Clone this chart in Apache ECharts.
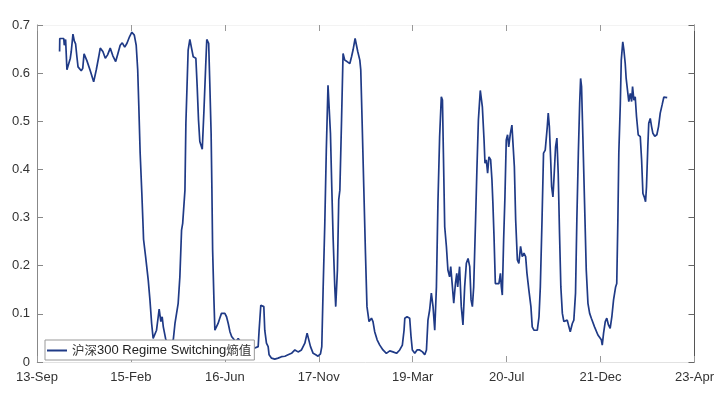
<!DOCTYPE html>
<html><head><meta charset="utf-8">
<script src="https://cdn.jsdelivr.net/npm/echarts@6/dist/echarts.min.js"></script>
<style>html,body{margin:0;padding:0;background:#fff}#c{width:717px;height:393px}</style>
</head><body><div id="c"></div>
<script>
// x = days since 2013-09-28 (first tick); ticks every 499 days
const tickLabels = ['13-Sep','15-Feb','16-Jun','17-Nov','19-Mar','20-Jul','21-Dec','23-Apr'];
const seriesName = '沪深300 Regime Switching熵值';
const days = [
120,121,142,145,152,159,168,177,182,191,
198,205,212,218,227,235,243,250,265,283,
301,315,328,336,350,363,375,389,403,418,
430,442,453,466,478,492,504,517,527,535,
541,548,557,564,566,577,591,600,609,617,
626,635,644,649,658,665,671,683,695,711,
724,733,742,750,759,768,774,786,791,796,
803,812,821,830,844,851,858,865,871,878,
887,896,902,912,918,925,929,933,940,945,
954,962,971,980,989,998,1007,1016,1025,1034,
1042,1056,1069,1081,1104,1131,1157,1175,1180,1189,
1196,1205,1210,1219,1228,1233,1246,1263,1281,1299,
1317,1334,1352,1370,1387,1405,1423,1435,1442,1453,
1467,1481,1493,1506,1513,1520,1529,1537,1546,1552,
1559,1566,1573,1582,1587,1596,1603,1609,1618,1626,
1631,1635,1640,1647,1653,1662,1671,1679,1690,1697,
1704,1715,1720,1727,1736,1745,1753,1764,1768,1777,
1785,1794,1807,1821,1838,1856,1874,1891,1910,1927,
1941,1950,1954,1966,1980,1987,1994,2007,2019,2033,
2048,2060,2069,2077,2086,2095,2104,2113,2122,2130,
2139,2148,2154,2159,2166,2175,2183,2192,2198,2207,
2214,2223,2230,2235,2245,2254,2263,2272,2281,2290,
2299,2306,2313,2320,2330,2337,2345,2355,2366,2375,
2380,2387,2394,2401,2410,2417,2422,2428,2435,2444,
2454,2462,2467,2472,2479,2486,2493,2500,2506,2515,
2523,2528,2536,2543,2552,2560,2569,2578,2587,2596,
2603,2613,2624,2631,2640,2649,2658,2667,2674,2683,
2691,2700,2711,2716,2722,2729,2734,2741,2746,2755,
2762,2769,2776,2783,2791,2799,2808,2817,2826,2833,
2844,2852,2861,2868,2876,2883,2888,2893,2900,2909,
2918,2927,2936,2945,2953,2962,2971,2980,2989,2998,
3003,3010,3019,3027,3036,3045,3054,3063,3074,3080,
3086,3091,3099,3104,3112,3118,3125,3130,3137,3144,
3152,3159,3164,3171,3178,3185,3194,3205,3212,3219,
3226,3233,3238,3245,3250,3258,3265,3272,3282,3293,
3302,3311,3321,3330,3339,3348];
const values = [
0.645,0.672,0.672,0.658,0.670,0.607,0.610,0.631,0.645,0.681,
0.667,0.661,0.634,0.613,0.617,0.605,0.610,0.640,0.626,0.605,
0.582,0.607,0.634,0.652,0.645,0.631,0.638,0.652,0.636,0.624,
0.641,0.658,0.663,0.654,0.662,0.676,0.685,0.679,0.658,0.607,
0.530,0.434,0.350,0.278,0.255,0.219,0.170,0.129,0.080,0.049,
0.046,0.066,0.094,0.110,0.084,0.094,0.073,0.049,0.035,0.042,
0.046,0.080,0.084,0.122,0.177,0.274,0.288,0.357,0.496,0.499,
0.648,0.670,0.672,0.634,0.631,0.572,0.503,0.458,0.454,0.442,
0.523,0.613,0.670,0.662,0.579,0.475,0.364,0.233,0.129,0.066,
0.063,0.080,0.091,0.101,0.098,0.101,0.094,0.080,0.063,0.053,
0.049,0.042,0.049,0.042,0.035,0.025,0.029,0.032,0.066,0.118,
0.122,0.115,0.066,0.039,0.032,0.015,0.008,0.006,0.008,0.011,
0.012,0.015,0.018,0.025,0.021,0.025,0.039,0.060,0.049,0.032,
0.018,0.015,0.012,0.017,0.032,0.150,0.288,0.440,0.575,0.572,
0.475,0.364,0.260,0.156,0.115,0.191,0.337,0.357,0.503,0.641,
0.645,0.627,0.631,0.624,0.627,0.620,0.634,0.648,0.672,0.669,
0.645,0.627,0.607,0.503,0.364,0.226,0.115,0.084,0.087,0.091,
0.084,0.063,0.046,0.035,0.025,0.018,0.023,0.021,0.018,0.025,
0.035,0.066,0.091,0.094,0.091,0.053,0.025,0.018,0.025,0.025,
0.021,0.015,0.025,0.087,0.108,0.143,0.115,0.066,0.156,0.330,
0.468,0.551,0.544,0.434,0.281,0.240,0.191,0.177,0.198,0.156,
0.122,0.163,0.184,0.156,0.198,0.115,0.077,0.156,0.205,0.215,
0.198,0.129,0.115,0.156,0.295,0.399,0.503,0.564,0.530,0.461,
0.413,0.420,0.392,0.426,0.420,0.378,0.330,0.260,0.163,0.160,
0.163,0.184,0.156,0.139,0.253,0.343,0.461,0.472,0.447,0.475,
0.492,0.496,0.406,0.295,0.212,0.205,0.240,0.219,0.226,0.219,
0.184,0.150,0.115,0.073,0.066,0.070,0.066,0.094,0.156,0.295,
0.434,0.440,0.489,0.517,0.489,0.420,0.364,0.343,0.378,0.447,
0.465,0.392,0.267,0.156,0.101,0.084,0.080,0.087,0.073,0.063,
0.080,0.087,0.143,0.295,0.434,0.537,0.589,0.572,0.468,0.330,
0.191,0.122,0.101,0.091,0.094,0.073,0.070,0.056,0.053,0.046,
0.035,0.060,0.084,0.091,0.077,0.070,0.094,0.129,0.156,0.163,
0.295,0.434,0.537,0.627,0.665,0.648,0.620,0.589,0.586,0.541,
0.558,0.541,0.572,0.544,0.551,0.510,0.472,0.468,0.420,0.350,
0.343,0.333,0.364,0.447,0.496,0.506,0.489,0.475,0.469,0.472,
0.489,0.517,0.534,0.550,0.553,0.549];

const tickStep = 499;
const xMax = tickStep * (tickLabels.length - 1);
const data = days.map((d, i) => [d, values[i]]);
const font = "'Liberation Sans', Arial, sans-serif";
const cjk = "'Noto Sans CJK SC', sans-serif";

const chart = echarts.init(document.getElementById('c'), null, {renderer: 'canvas'});
chart.setOption({
  animation: false,
  backgroundColor: '#fff',
  grid: {left: 37, right: 22, top: 25, bottom: 31, containLabel: false},
  legend: {
    show: true,
    left: 45, top: 340,
    orient: 'horizontal',
    backgroundColor: '#fff',
    borderColor: '#999', borderWidth: 1, borderRadius: 0,
    padding: [4, 3, 3, 2],
    itemWidth: 20, itemHeight: 2, itemGap: 4,
    icon: 'rect',
    data: [seriesName],
    formatter: () => '{c|沪深}{e|300 Regime Switching}{c|熵值}',
    textStyle: {
      color: '#222', fontSize: 13, fontFamily: font,
      rich: {
        c: {fontFamily: cjk, fontSize: 12.5, color: '#333'},
        e: {fontFamily: font, fontSize: 13, color: '#222'}
      }
    }
  },
  xAxis: [
    {
      type: 'value', min: 0, max: xMax, interval: tickStep,
      position: 'bottom',
      splitLine: {show: false},
      axisLine: {show: true, onZero: false, lineStyle: {color: '#e2e2e2', width: 1}},
      axisTick: {show: true, inside: true, length: 6, lineStyle: {color: '#999'}},
      axisLabel: {
        show: true, inside: false, margin: 9, fontSize: 13, fontFamily: font, color: '#333',
        formatter: v => tickLabels[Math.round(v / tickStep)] || ''
      }
    },
    {
      type: 'value', min: 0, max: xMax, interval: tickStep,
      position: 'top',
      splitLine: {show: false},
      axisLine: {show: true, onZero: false, lineStyle: {color: '#f3f3f3', width: 1}},
      axisTick: {show: true, inside: true, length: 6, lineStyle: {color: '#999'}},
      axisLabel: {show: false}
    }
  ],
  yAxis: [
    {
      type: 'value', min: 0, max: 0.7, interval: 0.1,
      position: 'left',
      splitLine: {show: false},
      axisLine: {show: true, onZero: false, lineStyle: {color: '#888', width: 1}},
      axisTick: {show: true, inside: true, length: 6, lineStyle: {color: '#888'}},
      axisLabel: {show: true, inside: false, margin: 7, fontSize: 13, fontFamily: font, color: '#333',
        formatter: v => (Math.abs(v) < 1e-9 ? '0' : v.toFixed(1))}
    },
    {
      type: 'value', min: 0, max: 0.7, interval: 0.1,
      position: 'right',
      splitLine: {show: false},
      axisLine: {show: true, onZero: false, lineStyle: {color: '#555', width: 1}},
      axisTick: {show: true, inside: true, length: 6, lineStyle: {color: '#666'}},
      axisLabel: {show: false}
    }
  ],
  series: [{
    name: seriesName,
    type: 'line',
    xAxisIndex: 0, yAxisIndex: 0,
    data: data,
    showSymbol: false, symbol: 'none',
    lineStyle: {color: '#1f3a86', width: 1.7},
    itemStyle: {color: '#1f3a86'},
    z: 2
  }]
});
</script></body></html>
